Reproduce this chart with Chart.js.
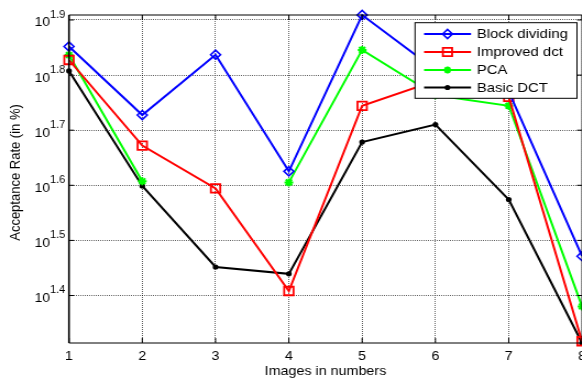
<!DOCTYPE html>
<html><head><meta charset="utf-8">
<script src="https://cdn.jsdelivr.net/npm/chart.js"></script>
<style>
html,body{margin:0;padding:0;background:#fff;overflow:hidden;width:582px;height:379px;}
#wrap{width:546px;height:379px;transform:scaleX(1.1);transform-origin:0 0;}
canvas{display:block}
</style></head><body>
<div id="wrap"><canvas id="c" width="546" height="379"></canvas></div>
<script>
// ---- data ----
const categories = ['1','2','3','4','5','6','7','8'];
const blockDividing = [71.1, 53.4, 68.7, 42.2, 81.1, 64.5, 58.9, 29.6];
const improvedDct   = [67.2, 47.0, 39.3, 25.6, 55.5, 61.6, 57.6, 20.75];
const pca           = [68.6, 40.5, null, 40.3, 70.1, 58.0, 55.5, 24.0];
const basicDct      = [64.2, 39.7, 28.3, 27.5, 47.7, 51.3, 37.5, 20.6];
const seriesNames = ['Block dividing','Improved dct','PCA','Basic DCT'];
const yTickExponents = [1.4, 1.5, 1.6, 1.7, 1.8, 1.9];
const yMin = 20.6, yMax = 81.1;
const xTitle = 'Images in numbers';
const yTitle = 'Acceptance Rate (in %)';

const FONT = "'Liberation Sans', Arial, Helvetica, sans-serif";
const SX = 1.1;
const colors = ['#0000ff','#ff0000','#00ff00','#000000'];
const styles = ['rectRot','rect','star','circle'];

function drawMarker(ctx, style, x, y, color){
  ctx.save();
  ctx.strokeStyle = color; ctx.fillStyle = color;
  ctx.beginPath();
  if (style === 'rectRot'){
    ctx.lineWidth = 1.6;
    ctx.moveTo(x-4.5, y); ctx.lineTo(x, y-4.5); ctx.lineTo(x+4.5, y); ctx.lineTo(x, y+4.5); ctx.closePath();
    ctx.stroke();
  } else if (style === 'rect'){
    ctx.lineWidth = 1.8;
    ctx.rect(x-4.2, y-4.2, 8.4, 8.4); ctx.stroke();
  } else if (style === 'star'){
    ctx.lineWidth = 2;
    ctx.moveTo(x-3.5,y); ctx.lineTo(x+3.5,y); ctx.moveTo(x,y-3.5); ctx.lineTo(x,y+3.5);
    ctx.moveTo(x-2.5,y-2.5); ctx.lineTo(x+2.5,y+2.5); ctx.moveTo(x-2.5,y+2.5); ctx.lineTo(x+2.5,y-2.5);
    ctx.stroke();
  } else {
    ctx.arc(x, y, 2.6, 0, Math.PI*2); ctx.fill();
  }
  ctx.restore();
}

const axesPlugin = {
  id: 'axesBox',
  afterDatasetsDraw(chart){
    const {ctx, chartArea: a, scales: {x, y}} = chart;
    ctx.save();
    ctx.strokeStyle = '#000';
    ctx.lineWidth = 1;
    ctx.beginPath();
    ctx.moveTo(a.left, a.top); ctx.lineTo(a.right, a.top);
    ctx.moveTo(a.left, a.bottom); ctx.lineTo(a.right, a.bottom);
    ctx.moveTo(a.right, a.top); ctx.lineTo(a.right, a.bottom);
    ctx.stroke();
    ctx.lineWidth = 1.6;
    ctx.beginPath(); ctx.moveTo(a.left, a.top); ctx.lineTo(a.left, a.bottom); ctx.stroke();
    ctx.lineWidth = 1;
    ctx.beginPath();
    categories.forEach((c, i) => {
      const px = x.getPixelForValue(i);
      ctx.moveTo(px, a.bottom); ctx.lineTo(px, a.bottom - 5);
      ctx.moveTo(px, a.top); ctx.lineTo(px, a.top + 5);
    });
    yTickExponents.forEach(e => {
      const py = y.getPixelForValue(Math.pow(10, e));
      ctx.moveTo(a.left, py); ctx.lineTo(a.left + 5/SX, py);
      ctx.moveTo(a.right, py); ctx.lineTo(a.right - 5/SX, py);
    });
    ctx.stroke();
    ctx.restore();
  },
  afterDraw(chart){
    const {ctx, chartArea: a, scales: {y}} = chart;
    ctx.save();
    ctx.fillStyle = '#000';
    yTickExponents.forEach(e => {
      const py = y.getPixelForValue(Math.pow(10, e));
      ctx.font = '10px ' + FONT;
      ctx.textAlign = 'left';
      ctx.textBaseline = 'middle';
      const expX = 45.5;
      ctx.fillText(e.toFixed(1), expX, py - 5);
      ctx.font = '12.5px ' + FONT;
      ctx.textAlign = 'right';
      ctx.fillText('10', expX, py + 3);
    });
    // y axis title
    ctx.save();
    ctx.translate(14.5, 172.5);
    ctx.rotate(-Math.PI / 2);
    ctx.font = '13px ' + FONT;
    ctx.textAlign = 'center'; ctx.textBaseline = 'middle';
    ctx.fillText(yTitle, 0, 0);
    ctx.restore();
    // legend
    const bx = 377.3, by = 22.7, bw = 147.2, bh = 75.6;
    ctx.fillStyle = '#fff';
    ctx.fillRect(bx, by, bw, bh);
    ctx.strokeStyle = '#000'; ctx.lineWidth = 1;
    ctx.strokeRect(bx, by, bw, bh);
    const rows = [34, 52, 70, 87.5];
    seriesNames.forEach((name, i) => {
      const ry = rows[i];
      ctx.strokeStyle = colors[i]; ctx.lineWidth = 2;
      ctx.beginPath(); ctx.moveTo(385.5, ry); ctx.lineTo(428.2, ry); ctx.stroke();
      drawMarker(ctx, styles[i], 406.8, ry, colors[i]);
      ctx.fillStyle = '#000';
      ctx.font = '13.5px ' + FONT;
      ctx.textAlign = 'left'; ctx.textBaseline = 'middle';
      ctx.fillText(name, 433.6, ry + 0.5);
    });
    ctx.restore();
  }
};

function ds(i, data){
  const base = {
    label: seriesNames[i], data: data,
    borderColor: colors[i], backgroundColor: colors[i],
    borderWidth: 2, pointStyle: styles[i], pointBorderColor: colors[i],
    spanGaps: false, clip: false, tension: 0
  };
  if (i === 0) Object.assign(base, {pointRadius: 4.5, pointBorderWidth: 1.6, pointBackgroundColor: 'rgba(0,0,0,0)'});
  if (i === 1) Object.assign(base, {pointRadius: 6, pointBorderWidth: 1.8, pointBackgroundColor: 'rgba(0,0,0,0)'});
  if (i === 2) Object.assign(base, {pointRadius: 4, pointBorderWidth: 2, pointBackgroundColor: colors[i]});
  if (i === 3) Object.assign(base, {pointRadius: 2.6, pointBorderWidth: 0, pointBackgroundColor: colors[i]});
  return base;
}

const gridOpts = {color: 'rgba(0,0,0,0.62)', lineWidth: 1, drawTicks: false};
new Chart(document.getElementById('c'), {
  type: 'line',
  data: {labels: categories, datasets: [ds(0, blockDividing), ds(1, improvedDct), ds(2, pca), ds(3, basicDct)]},
  options: {
    responsive: false, animation: false, devicePixelRatio: 1,
    layout: {padding: {top: 15, right: 16.9, left: 0, bottom: 0}},
    plugins: {legend: {display: false}, tooltip: {enabled: false}},
    scales: {
      x: {
        type: 'category', offset: false,
        grid: gridOpts, border: {display: false, dash: [1, 1]},
        ticks: {color: '#000', font: {family: FONT, size: 13}, padding: 6, maxRotation: 0, autoSkip: false},
        title: {display: true, text: xTitle, color: '#000', font: {family: FONT, size: 13}, padding: {top: 0, bottom: 0}},
        afterFit(s){ s.height = 36; }
      },
      y: {
        type: 'logarithmic', min: yMin, max: yMax,
        afterBuildTicks(s){ s.ticks = yTickExponents.map(e => ({value: Math.pow(10, e)})); },
        grid: gridOpts, border: {display: false, dash: [1, 1]},
        ticks: {display: false},
        title: {display: false},
        afterFit(s){ s.width = 62.7; }
      }
    }
  },
  plugins: [axesPlugin]
});
</script>
</body></html>
